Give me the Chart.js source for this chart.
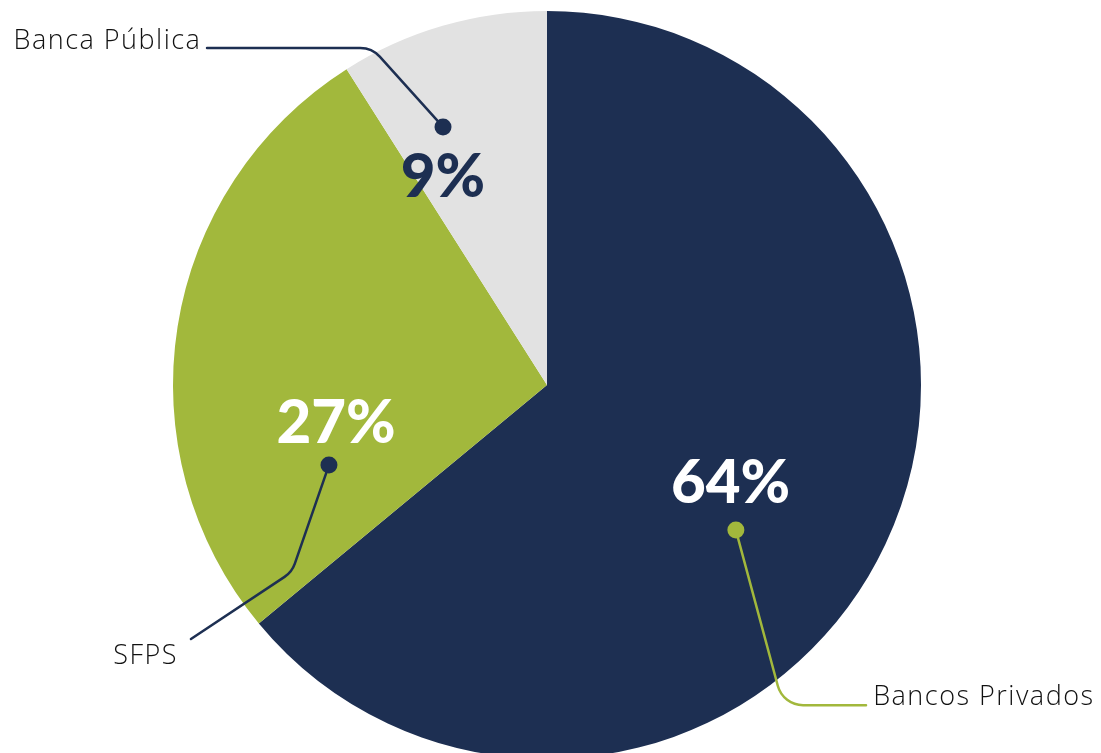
<!DOCTYPE html>
<html>
<head>
<meta charset="utf-8">
<script src="https://cdn.jsdelivr.net/npm/chart.js"></script>
<style>
  html, body { margin: 0; padding: 0; background: #fff; overflow: hidden; }
  #wrap { width: 1101px; height: 760px; position: relative; }
</style>
</head>
<body>
<div id="wrap"><canvas id="pieChart"></canvas></div>
<script>
// Participación por tipo de entidad
const categories = ["Bancos Privados", "SFPS", "Banca Pública"];
const shares = [64, 27, 9];
const sliceColors = ["#1d2f52", "#a2b83c", "#e2e2e2"];

// Callout layout, in units of the pie radius measured from its centre
const callouts = [
  { // Bancos Privados
    pct: [0.491, 0.316], pctColor: "#ffffff",
    path: [[0.505, 0.388], [0.631, 0.856], [0.853, 0.856]],
    text: [0.872, 0.856], align: "left", lineColor: "#a2b83c"
  },
  { // SFPS
    pct: [-0.564, 0.155], pctColor: "#ffffff",
    path: [[-0.583, 0.214], [-0.682, 0.500], [-0.952, 0.679]],
    text: [-1.160, 0.746], align: "left", lineColor: "#1d2f52"
  },
  { // Banca Pública
    pct: [-0.278, -0.503], pctColor: "#1d2f52",
    path: [[-0.278, -0.690], [-0.468, -0.901], [-0.909, -0.901]],
    text: [-0.924, -0.898], align: "right", lineColor: "#1d2f52"
  }
];

const calloutPlugin = {
  id: "callouts",
  afterDatasetsDraw(chart) {
    const ctx = chart.ctx;
    const arcs = chart.getDatasetMeta(0).data;
    arcs.forEach((arc, i) => {
      const c = callouts[i];
      const r = arc.outerRadius;
      const pt = (p) => [arc.x + p[0] * r, arc.y + p[1] * r];
      ctx.save();

      // leader line with a rounded elbow
      const [a, b, e] = c.path.map(pt);
      ctx.strokeStyle = c.lineColor;
      ctx.lineWidth = 2.5;
      ctx.lineCap = "round";
      ctx.beginPath();
      ctx.moveTo(a[0], a[1]);
      ctx.arcTo(b[0], b[1], e[0], e[1], r * 0.07);
      ctx.lineTo(e[0], e[1]);
      ctx.stroke();

      // end dot
      ctx.fillStyle = c.lineColor;
      ctx.beginPath();
      ctx.arc(a[0], a[1], 8.5, 0, Math.PI * 2);
      ctx.fill();

      // percentage
      const p = pt(c.pct);
      ctx.fillStyle = c.pctColor;
      ctx.font = "900 60px Lato";
      ctx.textAlign = "center";
      ctx.textBaseline = "alphabetic";
      ctx.fillText(shares[i] + "%", p[0], p[1]);

      // category name
      const t = pt(c.text);
      ctx.fillStyle = "#111111";
      ctx.font = "300 27px 'Open Sans'";
      ctx.letterSpacing = "1.5px";
      ctx.textAlign = c.align;
      ctx.fillText(categories[i], t[0], t[1]);
      ctx.restore();
    });
  }
};

new Chart(document.getElementById("pieChart"), {
  type: "pie",
  data: {
    labels: categories,
    datasets: [{
      data: shares,
      backgroundColor: sliceColors,
      borderWidth: 0
    }]
  },
  options: {
    responsive: true,
    maintainAspectRatio: false,
    animation: false,
    layout: { padding: { left: 173, right: 180, top: 11, bottom: 1 } },
    plugins: {
      legend: { display: false },
      tooltip: { enabled: false }
    }
  },
  plugins: [calloutPlugin]
});
</script>
</body>
</html>
